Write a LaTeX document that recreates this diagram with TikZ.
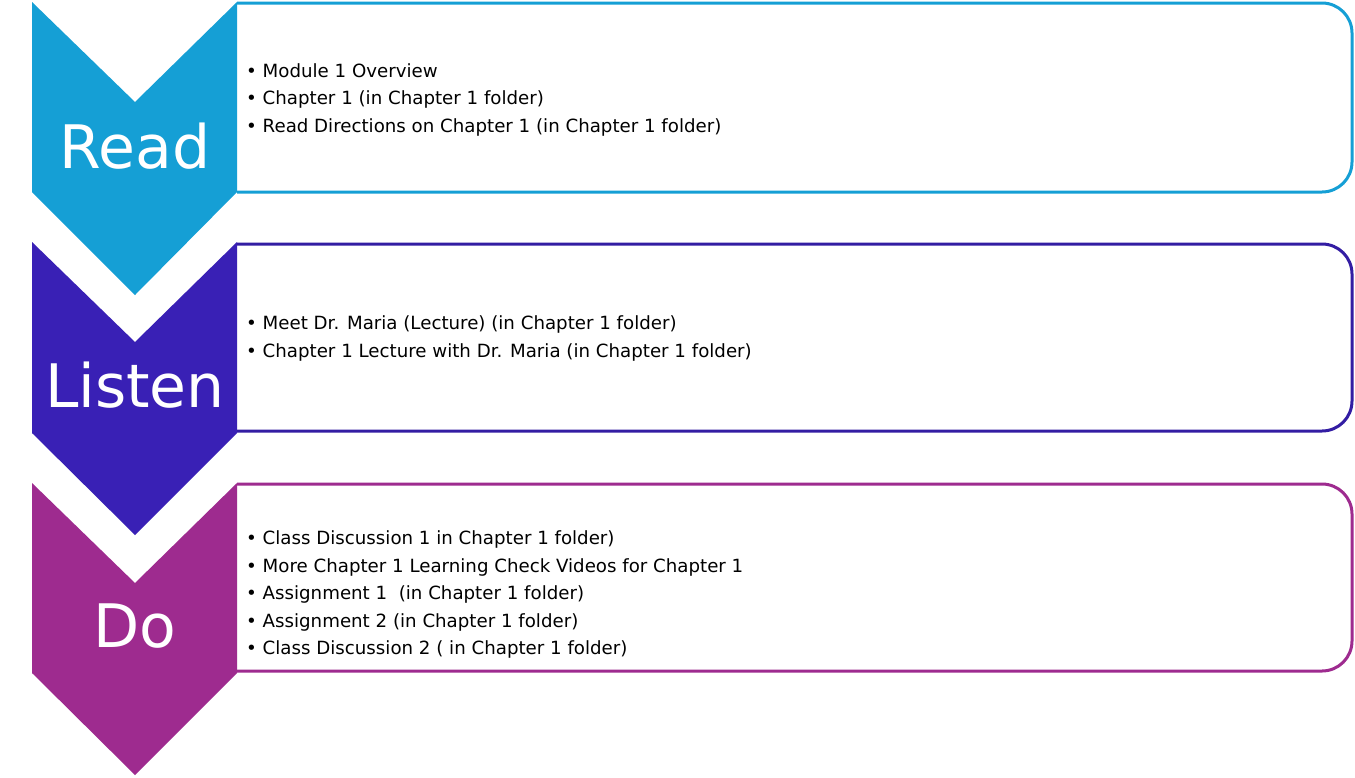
\documentclass[tikz,border=0pt]{standalone}
\usepackage{fontspec}
\setmainfont{DejaVu Sans}
\definecolor{readc}{HTML}{159FD5}
\definecolor{listenc}{HTML}{3920B5}
\definecolor{doc}{HTML}{9E2B8F}
\begin{document}
\begin{tikzpicture}[x=1pt,y=-1pt,
  panel/.style={line width=3pt,rounded corners=30pt},
  biglabel/.style={text=white,font=\fontsize{60}{60}\selectfont,anchor=base,inner sep=0pt},
  item/.style={anchor=base west,inner sep=0pt,font=\fontsize{18.2}{18.2}\selectfont,text=black}]
\useasboundingbox (0,0) rectangle (1355,777);
\fill[white] (0,0) rectangle (1355,777);
% panels
\draw[panel,readc] (237,3) -- (1352,3) -- (1352,192) -- (237,192);
\draw[panel,listenc!90!black] (237,244) -- (1352,244) -- (1352,431) -- (237,431);
\draw[panel,doc] (237,484) -- (1352,484) -- (1352,671) -- (237,671);
% chevrons
\fill[readc] (32,2) -- (135,102) -- (237,2) -- (237,192) -- (135,295) -- (32,192) -- cycle;
\fill[listenc] (32,242) -- (135,342) -- (237,242) -- (237,433) -- (135,535) -- (32,433) -- cycle;
\fill[doc] (32,483) -- (135,583) -- (237,483) -- (237,673) -- (135,775) -- (32,673) -- cycle;
% labels
\node[biglabel] (read) at (135,168) {Read};
\node[biglabel] (listen) at (135,407) {Listen};
\node[biglabel] (do) at (135,647) {Do};
% items
\node[item] (r1) at (246,77) {• Module 1 Overview};
\node[item] (r2) at (246,104.5) {• Chapter 1 (in Chapter 1 folder)};
\node[item] (r3) at (246,132) {• Read Directions on Chapter 1 (in Chapter 1 folder)};
\node[item] (l1) at (246,329.5) {• Meet Dr. Maria (Lecture) (in Chapter 1 folder)};
\node[item] (l2) at (246,357) {• Chapter 1 Lecture with Dr. Maria (in Chapter 1 folder)};
\node[item] (d1) at (246,544.5) {• Class Discussion 1 in Chapter 1 folder)};
\node[item] (d2) at (246,572) {• More Chapter 1 Learning Check Videos for Chapter 1};
\node[item] (d3) at (246,599.5) {• Assignment 1~ (in Chapter 1 folder)};
\node[item] (d4) at (246,627) {• Assignment 2 (in Chapter 1 folder)};
\node[item] (d5) at (246,654.5) {• Class Discussion 2 ( in Chapter 1 folder)};
\end{tikzpicture}
\end{document}
